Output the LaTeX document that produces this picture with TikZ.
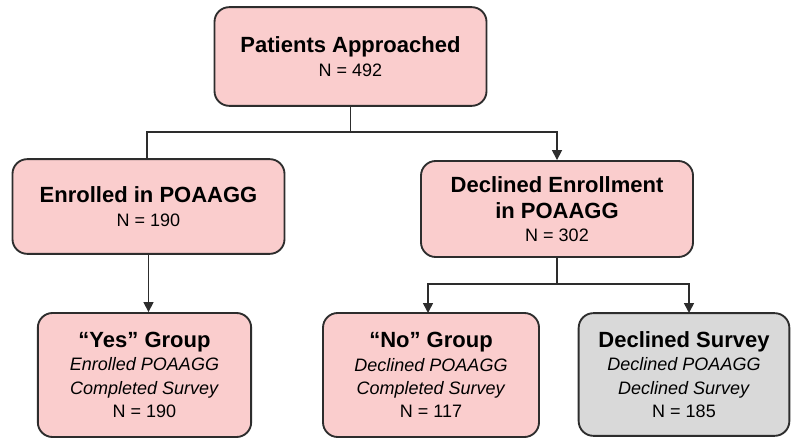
\documentclass[tikz,border=0pt]{standalone}
\usepackage{fontspec}
\setmainfont{Liberation Sans}
\usepackage{xcolor}
\usetikzlibrary{arrows.meta}
\definecolor{boxpink}{RGB}{250,205,205}
\definecolor{boxgray}{RGB}{217,217,217}
\definecolor{edgegray}{RGB}{45,45,45}
\newcommand{\hd}[1]{{\fontsize{16.5}{19.5}\selectfont\bfseries #1}}

\begin{document}
\begin{tikzpicture}[x=0.75pt,y=-0.75pt,
    stagebox/.style={draw=edgegray, line width=1.4pt, rounded corners=11pt, fill=boxpink,
        align=center, inner sep=0pt, font=\fontsize{13.5}{17.5}\selectfont},
    greybox/.style={stagebox, fill=boxgray},
    link/.style={draw=edgegray, line width=1.2pt},
    arr/.style={link, -{Triangle[length=7.5pt,width=7.5pt]}}]
    \useasboundingbox (0,0) rectangle (791,438);

    % Top level
    \node[stagebox, minimum width=204pt, minimum height=74pt] (approached) at (350.5,56.5)
        {\hd{Patients Approached}\\ N = 492};

    % Second level
    \node[stagebox, minimum width=204pt, minimum height=71pt] (enrolled) at (148.5,206.5)
        {\hd{Enrolled in POAAGG}\\ N = 190};
    \node[stagebox, minimum width=204pt, minimum height=72pt] (declined) at (557,209)
        {\hd{Declined Enrollment}\\[2pt] \hd{in POAAGG}\\ N = 302};

    % Third level
    \node[stagebox, minimum width=160pt, minimum height=93pt] (yesgrp) at (144.5,375)
        {\hd{``Yes'' Group}\\ \textit{Enrolled POAAGG}\\ \textit{Completed Survey}\\ N = 190};
    \node[stagebox, minimum width=162pt, minimum height=93pt] (nogrp) at (431,375)
        {\hd{``No'' Group}\\ \textit{Declined POAAGG}\\ \textit{Completed Survey}\\ N = 117};
    \node[greybox, minimum width=158pt, minimum height=92pt] (nosurvey) at (684,374.5)
        {\hd{Declined Survey}\\ \textit{Declined POAAGG}\\ \textit{Declined Survey}\\ N = 185};

    % Split after approach
    \coordinate (split1) at (350.5,132);
    \draw[link] (approached.south) -- (split1);
    \draw[link] (split1) -| (147,132) -- (147,159);
    \draw[arr] (split1) -| (declined.north);

    % Enrolled branch
    \draw[arr] (enrolled.south) -- (enrolled.south |- yesgrp.north);

    % Declined branch
    \coordinate (split2) at (557,284);
    \draw[link] (declined.south) -- (split2);
    \draw[arr] (split2) -| (428,313);
    \draw[arr] (split2) -| (689,313);
\end{tikzpicture}
\end{document}
